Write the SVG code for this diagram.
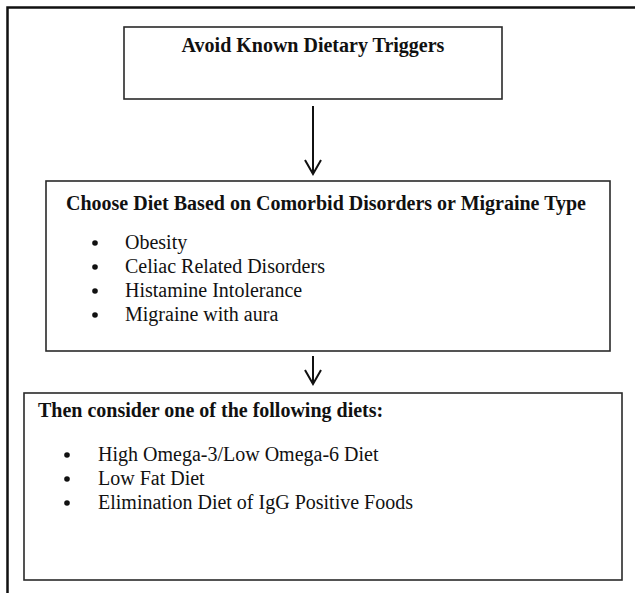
<svg xmlns="http://www.w3.org/2000/svg" width="635" height="593" viewBox="0 0 635 593">
<style>
.box{fill:#fff;stroke:#2a2a2a;stroke-width:1.6}
.t{font-family:"Liberation Serif","Times New Roman",serif;font-size:20px;fill:#111}
.b{font-weight:bold}
.con{stroke:#111;stroke-width:2;fill:none}
.dot{fill:#111}
</style>
<rect width="635" height="593" fill="#fff"/>
<g id="frame"><path d="M7.5,593 V7.5 H635" fill="none" stroke="#111" stroke-width="2.5"/></g>
<g id="n1">
<rect class="box" x="124" y="27" width="378" height="72"/>
<text class="t b" x="313" y="52" text-anchor="middle">Avoid Known Dietary Triggers</text>
</g>
<g id="n2">
<rect class="box" x="46" y="181" width="564" height="170"/>
<text class="t b" x="326" y="210" text-anchor="middle">Choose Diet Based on Comorbid Disorders or Migraine Type</text>
<circle class="dot" cx="95" cy="243" r="2.8"/><text class="t" x="125" y="249">Obesity</text>
<circle class="dot" cx="95" cy="267" r="2.8"/><text class="t" x="125" y="273">Celiac Related Disorders</text>
<circle class="dot" cx="95" cy="291" r="2.8"/><text class="t" x="125" y="297">Histamine Intolerance</text>
<circle class="dot" cx="95" cy="315" r="2.8"/><text class="t" x="125" y="321">Migraine with aura</text>
</g>
<g id="n3">
<rect class="box" x="24" y="393" width="598" height="187"/>
<text class="t b" x="38" y="417">Then consider one of the following diets:</text>
<circle class="dot" cx="67" cy="455" r="2.8"/><text class="t" x="98" y="461">High Omega-3/Low Omega-6 Diet</text>
<circle class="dot" cx="67" cy="479" r="2.8"/><text class="t" x="98" y="485">Low Fat Diet</text>
<circle class="dot" cx="67" cy="503" r="2.8"/><text class="t" x="98" y="509">Elimination Diet of IgG Positive Foods</text>
</g>
<g id="connectors">
<path class="con" d="M313,106 V174 M305,160 L313,174 L321,160"/>
<path class="con" d="M313,356 V384 M305,370 L313,384 L321,370"/>
</g>
</svg>
